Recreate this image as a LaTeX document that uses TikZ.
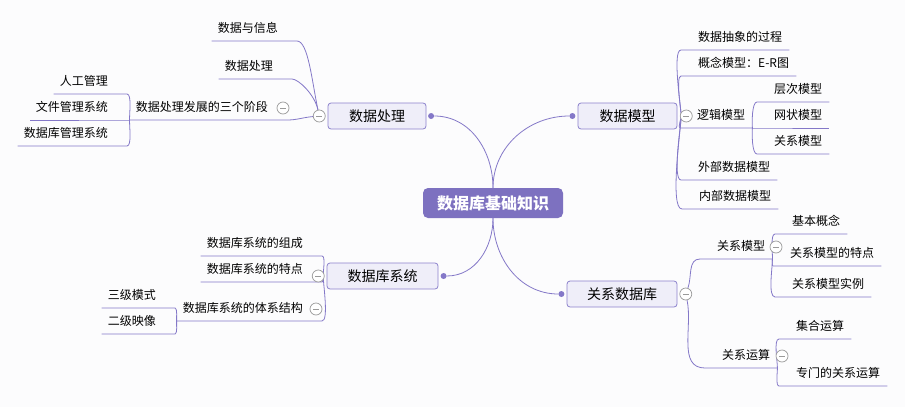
\documentclass[tikz,border=0pt]{standalone}
\usepackage{fontspec}
\setmainfont{Noto Sans CJK SC}
\usetikzlibrary{positioning, backgrounds}
\definecolor{mmline}{HTML}{8478C8}
\definecolor{mmroot}{HTML}{7D71C0}
\definecolor{mmfill}{HTML}{EFEEF9}
\definecolor{mmedge}{HTML}{8C82CC}
\definecolor{mmfold}{HTML}{9A9A9A}
\definecolor{mmback}{HTML}{FCFCFD}

\begin{document}
\begin{tikzpicture}[
    x=1pt, y=-1pt,
    root/.style={rectangle, rounded corners=5pt, fill=mmroot, text=white,
                 minimum width=140pt, minimum height=30pt, inner sep=0pt,
                 font=\fontsize{16}{18}\selectfont\bfseries},
    topic/.style={rectangle, rounded corners=3pt, draw=mmedge, fill=mmfill,
                  minimum height=26pt, inner sep=0pt, line width=0.8pt,
                  font=\fontsize{14}{16}\selectfont},
    leaf/.style={inner xsep=0pt, inner ysep=8.5pt, text depth=0pt,
                 font=\fontsize{12}{14}\selectfont},
    lleaf/.style={leaf, anchor=south east,
                  execute at begin node={\kern6pt}, execute at end node={\kern19pt}},
    rleaf/.style={leaf, anchor=south west,
                  execute at begin node={\kern17pt}, execute at end node={\kern7pt}},
    fold/.style={circle, draw=mmfold, fill=white, line width=0.7pt,
                 minimum size=12pt, inner sep=0pt,
                 path picture={\draw[mmfold, line width=0.7pt]
                   ([xshift=3pt]path picture bounding box.west) --
                   ([xshift=-3pt]path picture bounding box.east);}},
    knob/.style={circle, fill=mmline, inner sep=0pt, minimum size=6pt},
    branch/.style={draw=mmline, line width=0.8pt}
  ]
    \useasboundingbox (0,0) rectangle (905,407);

    \node[root] (root) at (493,203) {数据库基础知识};

    % main topics
    \node[topic, minimum width=98pt] (proc) at (377,116) {数据处理};
    \node[topic, minimum width=99pt] (model) at (627.5,116) {数据模型};
    \node[topic, minimum width=111pt] (sys) at (382.5,276) {数据库系统};
    \node[topic, minimum width=110pt] (rdb) at (622,294) {关系数据库};

    \node[knob, right=1.5pt of proc] (procknob) {};
    \node[knob, left=2pt of model] (modelknob) {};
    \node[knob, right=2pt of sys] (sysknob) {};
    \node[knob, left=2pt of rdb] (rdbknob) {};

    \node[fold, left=2pt of proc] (procfold) {};
    \node[fold, right=2.5pt of model] (modelfold) {};
    \node[fold, left=2pt of sys] (sysfold) {};
    \node[fold, right=2pt of rdb] (rdbfold) {};

    % data processing
    \node[lleaf] (proc1) at (297,41) {数据与信息};
    \node[lleaf] (proc2) at (292,79) {数据处理};
    \node[lleaf] (proc3) at (287,120) {数据处理发展的三个阶段};
    \node[fold] (proc3fold) at (283,108) {};
    \node[lleaf] (proc31) at (127,94) {人工管理};
    \node[lleaf] (proc32) at (127,120) {文件管理系统};
    \node[lleaf] (proc33) at (127,146) {数据库管理系统};

    % data model
    \coordinate (modelj) at ([xshift=-5pt]modelfold.center);
    \node[rleaf] (model1) at (681,50) {数据抽象的过程};
    \node[rleaf] (model2) at (681,76) {概念模型：E-R图};
    \node[rleaf] (model3) at (680,128) {逻辑模型};
    \node[rleaf] (model31) at (757,102) {层次模型};
    \node[rleaf] (model32) at (757,128) {网状模型};
    \node[rleaf] (model33) at (757,154) {关系模型};
    \node[rleaf] (model4) at (681,180) {外部数据模型};
    \node[rleaf] (model5) at (682,209) {内部数据模型};

    % database system
    \coordinate (sysj) at ([xshift=5pt]sysfold.center);
    \node[lleaf] (sys1) at (322,256) {数据库系统的组成};
    \node[lleaf] (sys2) at (322,282) {数据库系统的特点};
    \node[lleaf] (sys3) at (322,321) {数据库系统的体系结构};
    \node[fold] (sys3fold) at (316,309) {};
    \node[lleaf] (sys31) at (175,308) {三级模式};
    \node[lleaf] (sys32) at (175,334) {二级映像};

    % relational database
    \node[rleaf] (rdb1) at (700,259) {关系模型};
    \node[fold] (rdb1fold) at (776,247) {};
    \node[rleaf] (rdb11) at (775,234) {基本概念};
    \node[rleaf] (rdb12) at (773,266) {关系模型的特点};
    \node[rleaf] (rdb13) at (775,297) {关系模型实例};
    \node[rleaf] (rdb2) at (705,368) {关系运算};
    \node[fold] (rdb2fold) at (782,356) {};
    \node[rleaf] (rdb21) at (779,339) {集合运算};
    \node[rleaf] (rdb22) at (779,386) {专门的关系运算};

    \begin{scope}[on background layer]
      \fill[mmback] (0,0) rectangle (905,407);

      \draw[branch] (root.north) to[out=90,in=0] (procknob);
      \draw[branch] (root.north) to[out=90,in=180] (modelknob);
      \draw[branch] (root.south) to[out=-90,in=0] (sysknob);
      \draw[branch] (root.south) to[out=-90,in=180] (rdbknob);

      \draw[branch] (procfold) to[out=102,in=0,in looseness=0.4] (proc1.south east) -- (proc1.south west);
      \draw[branch] (procfold) to[out=102,in=0,in looseness=0.4] (proc2.south east) -- (proc2.south west);
      \draw[branch] (procfold) to[out=185,in=0] (proc3.south east) -- (proc3.south west);
      \draw[branch] (proc3.south west) to[out=95,in=0,looseness=0.5] (proc31.south east) -- (proc31.south west);
      \draw[branch] (proc3.south west) -- (proc32.south east) -- (proc32.south west);
      \draw[branch] (proc3.south west) to[out=-95,in=0,looseness=0.5] (proc33.south east) -- (proc33.south west);

      \draw[branch] (modelj) to[out=92,in=180,looseness=0.35] (model1.south west) -- (model1.south east);
      \draw[branch] (modelj) to[out=92,in=180,looseness=0.35] (model2.south west) -- (model2.south east);
      \draw[branch] (modelj) to[out=-90,in=180,looseness=0.5] (model3.south west) -- (model3.south east);
      \draw[branch] (modelj) to[out=-92,in=180,looseness=0.35] (model4.south west) -- (model4.south east);
      \draw[branch] (modelj) to[out=-92,in=180,looseness=0.35] (model5.south west) -- (model5.south east);
      \draw[branch] (model3.south east) to[out=95,in=180,looseness=0.5] (model31.south west) -- (model31.south east);
      \draw[branch] (model3.south east) -- (model32.south west) -- (model32.south east);
      \draw[branch] (model3.south east) to[out=-95,in=180,looseness=0.5] (model33.south west) -- (model33.south east);

      \draw[branch] (sysj) to[out=95,in=0,looseness=0.5] (sys1.south east) -- (sys1.south west);
      \draw[branch] (sysj) to[out=-95,in=0,looseness=0.5] (sys2.south east) -- (sys2.south west);
      \draw[branch] (sysj) to[out=-92,in=0,looseness=0.4] (sys3.south east) -- (sys3.south west);
      \draw[branch] (sys3.south west) to[out=95,in=0,looseness=0.5] (sys31.south east) -- (sys31.south west);
      \draw[branch] (sys3.south west) to[out=-95,in=0,looseness=0.5] (sys32.south east) -- (sys32.south west);

      \draw[branch] (rdbfold) to[out=70,in=180] (rdb1.south west) -- (rdb1.south east);
      \draw[branch] (rdbfold) to[out=-78,in=180] (rdb2.south west) -- (rdb2.south east);
      \draw[branch] (rdb1.south east) to[out=85,in=180,looseness=0.5] (rdb11.south west) -- (rdb11.south east);
      \draw[branch] (rdb1.south east) to[out=-85,in=180,looseness=0.5] (rdb12.south west) -- (rdb12.south east);
      \draw[branch] (rdb1.south east) to[out=-88,in=180,looseness=0.5] (rdb13.south west) -- (rdb13.south east);
      \draw[branch] (rdb2.south east) to[out=88,in=180,looseness=0.5] (rdb21.south west) -- (rdb21.south east);
      \draw[branch] (rdb2.south east) to[out=-88,in=180,looseness=0.5] (rdb22.south west) -- (rdb22.south east);
    \end{scope}
  \end{tikzpicture}
\end{document}
